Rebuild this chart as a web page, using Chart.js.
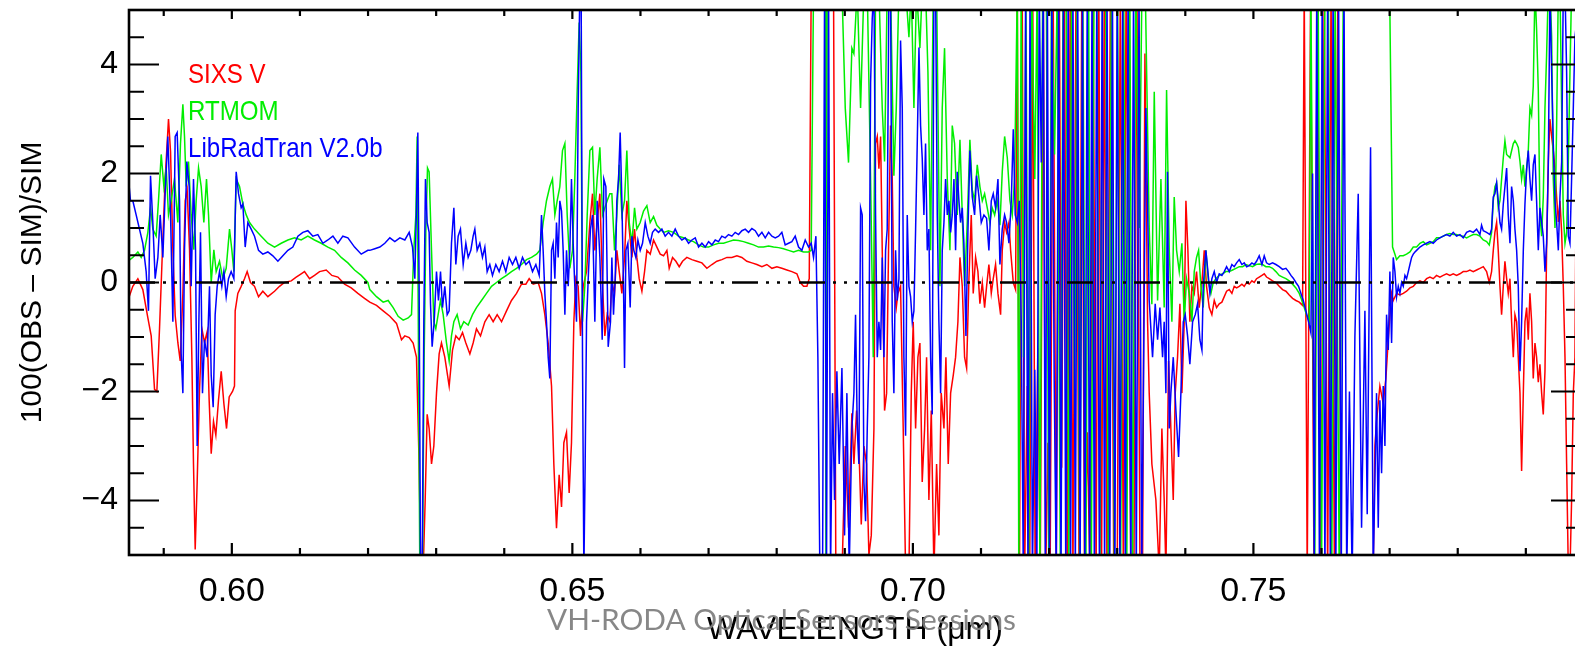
<!DOCTYPE html>
<html><head><meta charset="utf-8">
<script src="https://cdn.jsdelivr.net/npm/chart.js@4.4.1/dist/chart.umd.min.js"></script>
<style>
html,body{margin:0;padding:0;background:#fff;overflow:hidden;width:1575px;height:652px;}
#wrap{position:absolute;left:0;top:0;width:1600px;height:652px;}
</style></head><body>
<div id="wrap"><canvas id="c" width="1600" height="652"></canvas></div>
<script>
// ---------------- data (wavelength in µm, 100(OBS-SIM)/SIM) ----------------
const xTickValues = [0.60, 0.65, 0.70, 0.75];
const xTickLabels = ['0.60', '0.65', '0.70', '0.75'];
const xMinorTicks = [0.59, 0.61, 0.62, 0.63, 0.64, 0.66, 0.67, 0.68, 0.69, 0.71, 0.72, 0.73, 0.74, 0.76, 0.77, 0.78, 0.79];
const yTickValues = [-4, -2, 0, 2, 4];
const yTickLabels = ['\u22124', '\u22122', '0', '2', '4'];
const yMinorTicks = [-4.5, -3.5, -3, -2.5, -1.5, -1, -0.5, 0.5, 1, 1.5, 2.5, 3, 3.5, 4.5];
const xRange = [0.5849, 0.7981];
const yRange = [-5, 5];
const legendLabels = ['SIXS V', 'RTMOM', 'LibRadTran V2.0b'];
const xTitle = 'WAVELENGTH (\u03bcm)';
const yTitle = '100(OBS \u2013 SIM)/SIM';
const watermark = 'VH-RODA Optical Sensors Sessions';

const sixs = [
[0.58473,-0.33],[0.58546,-0.07],[0.58620,0.07],[0.58693,-0.13],[0.58767,-0.65],[0.58816,-0.98],[0.58865,-1.96],[0.58899,-2.0],[0.58938,-0.85],[0.58977,0.46],
[0.59021,1.9],[0.59070,3.0],[0.59100,2.4],[0.59134,0.6],[0.59168,-0.6],[0.59207,-1.1],[0.59242,-1.44],[0.59281,-0.2],[0.59315,1.5],[0.59344,1.7],
[0.59379,0.6],[0.59413,-1.37],[0.59437,-3.33],[0.59462,-4.9],[0.59491,-3.66],[0.59525,-2.0],[0.59560,-0.85],[0.59599,-1.1],[0.59638,-0.9],[0.59667,-2.16],
[0.59697,-3.14],[0.59731,-2.55],[0.59765,-2.8],[0.59804,-2.16],[0.59844,-1.63],[0.59883,-2.22],[0.59922,-2.68],[0.59961,-2.1],[0.60010,-2.0],[0.60039,-1.9],
[0.60049,-0.52],[0.60088,-0.2],[0.60137,-0.07],[0.60186,0.07],[0.60225,0.2],[0.60274,0.0],[0.60333,-0.07],[0.60392,-0.26],[0.60455,-0.16],[0.60529,-0.26],
[0.60627,-0.16],[0.60700,-0.07],[0.60774,0.0],[0.60872,0.03],[0.60945,0.1],[0.61018,0.16],[0.61067,0.2],[0.61141,0.07],[0.61214,0.13],[0.61288,0.2],
[0.61386,0.23],[0.61469,0.13],[0.61557,0.1],[0.61655,-0.03],[0.61753,-0.1],[0.61851,-0.2],[0.61948,-0.29],
[0.62026,-0.36],[0.62124,-0.42],[0.62222,-0.52],[0.62320,-0.62],[0.62418,-0.75],[0.62491,-1.05],[0.62540,-0.98],[0.62604,-1.01],[0.62662,-1.11],[0.62711,-1.37],
[0.62750,-3.33],[0.62775,-5.3],[0.62809,-5.3],[0.62839,-3.99],[0.62868,-2.42],[0.62897,-2.68],[0.62932,-3.33],[0.62966,-3.0],[0.63005,-2.03],[0.63044,-1.31],
[0.63078,-1.11],[0.63127,-1.37],[0.63191,-1.9],[0.63240,-1.24],[0.63289,-0.98],[0.63338,-1.05],[0.63387,-0.92],[0.63436,-1.11],[0.63495,-1.31],[0.63543,-1.11],
[0.63592,-0.85],[0.63651,-0.98],[0.63715,-0.72],[0.63778,-0.59],[0.63837,-0.72],[0.63896,-0.59],[0.63960,-0.72],[0.64033,-0.52],[0.64106,-0.33],[0.64180,-0.2],
[0.64253,-0.03],[0.64317,-0.03],[0.64366,0.07],[0.64425,-0.03],[0.64498,0.0],[0.64547,-0.2],[0.64596,-0.59],[0.64645,-1.11],[0.64694,-1.9],[0.64728,-3.33],
[0.64767,-4.51],[0.64806,-3.53],[0.64841,-4.12],[0.64875,-2.94],[0.64914,-2.75],[0.64953,-3.86],[0.64987,-2.94],[0.65022,-0.72],[0.65051,0.07],[0.65085,-0.07],
[0.65120,-0.98],[0.65159,-0.07],[0.65208,0.2],[0.65257,1.1],[0.65296,1.63],[0.65330,0.59],[0.65364,1.1],[0.65404,1.63],[0.65443,-0.07],[0.65477,-0.98],
[0.65511,-0.59],[0.65550,-0.72],
[0.65580,0.0],[0.65619,-0.2],[0.65653,0.59],[0.65688,0.2],[0.65727,-0.2],[0.65766,0.46],[0.65800,1.5],[0.65835,0.98],[0.65874,0.46],[0.65913,0.98],
[0.65947,0.46],[0.65981,0.07],[0.66021,-0.16],[0.66060,0.2],[0.66094,0.59],[0.66143,0.52],[0.66192,0.78],[0.66241,0.65],[0.66290,0.52],[0.66339,0.49],
[0.66388,0.59],[0.66422,0.26],[0.66471,0.46],[0.66520,0.39],[0.66569,0.29],[0.66618,0.39],[0.66681,0.46],[0.66755,0.42],[0.66828,0.39],[0.66902,0.36],
[0.66975,0.26],[0.67049,0.33],[0.67122,0.39],[0.67195,0.42],[0.67269,0.46],[0.67342,0.46],[0.67416,0.49],[0.67489,0.46],[0.67562,0.39],[0.67636,0.36],
[0.67709,0.33],[0.67783,0.29],[0.67856,0.33],[0.67930,0.26],[0.68003,0.29],[0.68076,0.26],[0.68150,0.23],[0.68223,0.2],[0.68297,0.16],[0.68346,0.0],
[0.68395,-0.07],[0.68444,-0.07],[0.68478,0.07],[0.68507,5.4],[0.68615,5.4],[0.68762,5.4],[0.68835,5.4],[0.68869,-5.4],[0.68958,-5.4],[0.69007,-3.0],
[0.69055,-4.5],[0.69104,-2.4],
[0.69134,-3.33],[0.69173,-2.35],[0.69207,-3.0],[0.69242,-4.44],[0.69281,-3.0],[0.69320,-3.33],[0.69354,-5.0],[0.69389,-4.64],[0.69428,-2.68],[0.69452,2.55],
[0.69477,2.68],[0.69501,2.09],[0.69526,2.68],[0.69550,0.59],[0.69584,-2.35],[0.69614,-2.03],[0.69643,0.65],[0.69672,2.88],[0.69697,1.9],[0.69721,-0.07],
[0.69756,-0.46],[0.69780,-0.2],[0.69819,-0.07],[0.69858,-2.68],[0.69893,-5.3],[0.69942,-5.3],[0.69976,-2.03],[0.70005,-0.72],[0.70040,-2.68],[0.70074,-1.37],
[0.70103,-1.11],[0.70137,-3.66],[0.70172,-2.68],[0.70201,-1.37],[0.70235,-3.99],[0.70270,-2.35],[0.70309,-5.3],[0.70348,-3.33],[0.70382,-4.64],[0.70416,-2.03],
[0.70456,-2.68],[0.70485,-1.37],[0.70519,-3.33],[0.70554,-2.03],[0.70593,-1.7],[0.70627,-1.37],[0.70661,-0.72],[0.70691,0.46],[0.70725,-0.07],[0.70759,-1.37],
[0.70789,-1.57],[0.70823,0.07],[0.70857,1.24],[0.70886,-0.2],[0.70921,0.46],[0.70955,0.2],[0.70984,-0.39],[0.71019,0.0],[0.71053,-0.46],[0.71082,-0.07],
[0.71116,0.33],[0.71151,-0.2],[0.71180,0.07],[0.71214,0.33],[0.71249,-0.2],[0.71288,-0.59],[0.71312,0.59],[0.71347,1.1],[0.71376,0.92],[0.71410,1.1],
[0.71435,0.59],[0.71474,0.0],[0.71508,-0.13],[0.71533,5.4],
[0.71565,-5.4],[0.71605,5.4],[0.71640,-5.4],[0.71680,-1.9],[0.71715,-5.4],[0.71760,5.4],[0.71795,-5.4],[0.71835,-1.2],[0.71870,-5.4],[0.71915,5.4],
[0.71950,-5.4],[0.71982,-2.94],[0.72015,-5.4],[0.72060,5.4],[0.72105,-5.4],[0.72150,5.4],[0.72185,-3.4],[0.72225,5.4],[0.72265,-5.4],[0.72310,5.4],
[0.72350,-5.4],[0.72395,5.4],[0.72440,-5.4],[0.72480,5.4],[0.72520,-5.4],[0.72561,-2.75],[0.72600,-5.4],[0.72645,5.4],[0.72690,-5.4],[0.72730,5.4],
[0.72770,-5.4],[0.72810,5.4],[0.72850,-5.4],[0.72900,5.4],[0.72950,-5.4],[0.73000,-5.4],[0.73045,5.4],[0.73090,-5.4],[0.73130,5.4],[0.73165,0.72],
[0.73200,-5.4],[0.73245,-5.4],[0.73290,5.4],[0.73335,-5.4],
[0.73372,-5.4],[0.73407,4.2],[0.73446,-0.72],[0.73470,-2.03],[0.73509,-3.33],[0.73568,-3.99],[0.73617,-5.3],[0.73656,-2.68],[0.73690,-3.99],[0.73715,-5.3],
[0.73754,-1.44],[0.73788,-2.68],[0.73823,-3.99],[0.73852,-2.03],[0.73886,-1.37],[0.73921,-0.39],[0.73950,-2.03],[0.73984,-0.72],[0.74009,1.5],[0.74038,0.59],
[0.74067,-0.72],[0.74097,-0.07],[0.74131,-0.2],[0.74165,0.2],[0.74204,-0.46],[0.74244,0.0],[0.74278,0.59],[0.74312,-0.07],[0.74351,-0.46],[0.74390,-0.59],
[0.74425,-0.33],[0.74459,-0.46],[0.74498,-0.39],[0.74537,-0.36],[0.74572,-0.26],[0.74606,-0.16],[0.74645,-0.13],[0.74684,-0.2],[0.74718,-0.07],[0.74753,-0.1],
[0.74792,-0.07],[0.74831,-0.03],[0.74865,-0.07],[0.74900,0.0],[0.74939,-0.03],[0.74978,0.03],[0.75012,0.0],[0.75046,0.07],[0.75085,0.1],[0.75125,0.13],
[0.75159,0.16],[0.75193,0.1],[0.75232,0.07],[0.75281,0.03],[0.75330,0.0],[0.75379,-0.07],[0.75428,-0.13],[0.75477,-0.16],[0.75526,-0.23],[0.75575,-0.29],
[0.75624,-0.33],[0.75673,-0.36],[0.75722,-0.42],[0.75746,5.4],
[0.75790,-5.4],[0.75840,5.4],[0.75890,-5.4],[0.75940,5.4],[0.75990,-5.4],[0.76040,5.4],[0.76090,-5.4],[0.76140,5.4],[0.76190,-5.4],[0.76240,5.4],
[0.76290,-5.4],[0.76400,-5.4],[0.76500,-5.4],[0.76600,-5.4],[0.76700,-5.4],
[0.76759,-5.3],[0.76784,-3.0],[0.76808,-2.55],[0.76857,-1.9],[0.76906,-2.22],[0.76945,-1.76],[0.76980,-1.05],[0.77004,-0.59],[0.77029,-0.2],[0.77053,-0.33],
[0.77102,-0.2],[0.77151,-0.23],[0.77200,-0.2],[0.77249,-0.16],[0.77298,-0.1],[0.77347,-0.07],[0.77396,0.0],[0.77445,0.03],[0.77494,0.0],[0.77543,0.07],
[0.77592,0.1],[0.77640,0.07],[0.77689,0.13],[0.77738,0.1],[0.77787,0.13],[0.77836,0.16],[0.77885,0.13],[0.77934,0.16],[0.77983,0.13],[0.78032,0.16],
[0.78081,0.2],[0.78130,0.2],[0.78179,0.23],[0.78228,0.2],[0.78277,0.23],[0.78326,0.26],[0.78375,0.29],[0.78424,0.2],[0.78463,0.0],[0.78497,0.2],
[0.78522,0.59],[0.78546,0.92],[0.78571,1.1],[0.78595,0.59],[0.78620,-0.07],[0.78644,-0.59],[0.78669,-0.07],[0.78693,0.39],[0.78718,0.07],[0.78742,-0.2],
[0.78767,0.07],[0.78791,-0.72],[0.78816,-1.37],[0.78840,-0.59],[0.78865,-0.72],[0.78889,-1.37],[0.78914,-2.03],[0.78938,-3.46],[0.78963,-2.03],[0.78987,-0.72],
[0.79012,-0.46],[0.79036,-1.05],[0.79060,-0.2],[0.79085,-0.72],[0.79109,-1.76],[0.79134,-1.11],[0.79158,-1.37],[0.79183,-1.83],[0.79207,-1.5],[0.79232,-2.03],
[0.79256,-2.42],[0.79281,-1.63],[0.79305,0.59],[0.79330,2.22],[0.79354,3.0],[0.79379,2.68],[0.79403,2.42],[0.79428,2.09],[0.79452,1.57],[0.79477,1.11],
[0.79501,1.5],[0.79526,0.92],[0.79550,-0.07],[0.79575,-1.37],[0.79599,-3.33],[0.79624,-5.3],[0.79648,-5.3],[0.79672,-3.99],[0.79697,-2.03],[0.79721,-1.37],
[0.79760,5.4],[0.79800,-5.4]
];

const rtmom = [
[0.58473,0.39],[0.58546,0.46],[0.58620,0.56],[0.58669,0.46],[0.58718,0.59],[0.58767,0.92],[0.58806,1.37],[0.58840,0.98],[0.58889,0.85],[0.58923,1.5],
[0.58963,2.35],[0.59002,1.76],[0.59036,2.1],[0.59070,1.24],[0.59109,1.5],[0.59158,1.9],[0.59207,1.1],[0.59246,2.55],[0.59281,3.27],[0.59305,2.68],
[0.59330,1.76],[0.59364,2.22],[0.59403,1.24],[0.59442,0.6],[0.59476,1.5],[0.59511,2.1],[0.59550,1.76],[0.59589,1.1],[0.59628,1.9],[0.59658,1.24],
[0.59697,0.0],[0.59736,0.6],[0.59770,0.2],[0.59819,0.39],[0.59868,0.07],[0.59917,0.26],[0.59966,0.98],[0.60000,0.6],[0.60030,0.2],[0.60064,1.9],
[0.60113,1.76],[0.60162,1.44],[0.60211,1.24],[0.60260,1.1],[0.60333,0.98],[0.60431,0.85],[0.60529,0.72],[0.60627,0.65],[0.60725,0.72],[0.60823,0.78],
[0.60921,0.82],[0.61018,0.78],[0.61116,0.85],[0.61214,0.78],[0.61312,0.72],[0.61410,0.65],[0.61508,0.59],[0.61606,0.46],[0.61704,0.36],[0.61802,0.23],
[0.61900,0.13],[0.61997,0.0],
[0.62026,-0.13],[0.62124,-0.26],[0.62222,-0.36],[0.62295,-0.33],[0.62369,-0.46],[0.62442,-0.62],[0.62516,-0.69],[0.62589,-0.65],[0.62638,-0.59],[0.62672,0.59],
[0.62702,1.24],[0.62721,2.68],[0.62741,-1.37],[0.62760,-5.3],[0.62799,-5.3],[0.62824,-1.37],[0.62848,0.92],[0.62873,2.1],[0.62897,2.03],[0.62932,0.59],
[0.62966,-0.72],[0.62995,-0.85],[0.63029,-0.59],[0.63064,-0.33],[0.63103,-0.59],[0.63152,-1.11],[0.63191,-1.44],[0.63225,-0.98],[0.63260,-0.72],[0.63308,-0.59],
[0.63357,-0.85],[0.63406,-0.72],[0.63470,-0.78],[0.63534,-0.59],[0.63592,-0.46],[0.63666,-0.33],[0.63739,-0.2],[0.63813,-0.07],[0.63886,0.0],[0.63960,0.07],
[0.64033,0.13],[0.64106,0.2],[0.64180,0.26],[0.64253,0.33],[0.64327,0.42],[0.64400,0.46],[0.64474,0.52],[0.64522,0.59],[0.64571,1.1],[0.64620,1.5],
[0.64669,1.76],[0.64708,1.9],[0.64743,1.24],[0.64777,1.5],[0.64816,1.76],[0.64855,2.42],[0.64890,2.55],[0.64924,1.24],[0.64963,0.26],[0.65002,0.59],
[0.65036,1.9],[0.65071,3.53],[0.65100,4.77],[0.65125,3.86],[0.65149,-0.72],[0.65183,-0.07],[0.65218,1.24],[0.65257,2.42],[0.65296,2.48],[0.65330,1.24],
[0.65364,1.9],[0.65404,2.48],[0.65443,1.24],[0.65477,1.37],[0.65511,1.5],[0.65550,1.63],
[0.65580,1.63],[0.65619,0.59],[0.65653,1.24],[0.65688,2.16],[0.65727,1.24],[0.65766,1.5],[0.65800,2.42],[0.65835,1.1],[0.65874,0.72],[0.65913,1.37],
[0.65947,0.98],[0.65996,1.1],[0.66045,1.31],[0.66094,1.41],[0.66143,1.1],[0.66192,1.21],[0.66241,1.05],[0.66290,0.98],[0.66339,0.92],[0.66412,0.95],
[0.66486,0.92],[0.66559,0.85],[0.66632,0.82],[0.66706,0.78],[0.66779,0.75],[0.66853,0.69],[0.66926,0.65],[0.67000,0.65],[0.67073,0.69],[0.67146,0.72],
[0.67220,0.72],[0.67293,0.75],[0.67367,0.78],[0.67440,0.77],[0.67513,0.75],[0.67587,0.72],[0.67660,0.69],[0.67734,0.65],[0.67807,0.65],[0.67881,0.67],
[0.67954,0.65],[0.68028,0.64],[0.68101,0.62],[0.68174,0.59],[0.68248,0.56],[0.68321,0.59],[0.68395,0.56],[0.68468,0.56],[0.68507,0.59],[0.68541,5.4],
[0.68713,5.4],[0.68723,-5.4],[0.68742,5.4],[0.68958,5.4],[0.69007,3.2],[0.69055,2.2],[0.69104,4.3],
[0.69134,4.2],[0.69183,5.4],[0.69232,3.2],[0.69281,5.4],[0.69330,5.4],[0.69379,1.9],[0.69418,-1.37],[0.69452,5.4],[0.69501,5.4],[0.69550,3.2],
[0.69584,2.22],[0.69623,5.4],[0.69672,5.4],[0.69721,1.96],[0.69756,3.2],[0.69795,5.4],[0.69893,5.4],[0.69942,4.5],[0.69976,5.4],[0.70015,3.2],
[0.70054,5.4],[0.70103,4.3],[0.70137,5.4],[0.70186,5.4],[0.70221,3.86],[0.70260,0.59],[0.70299,5.4],[0.70348,5.4],[0.70397,-0.07],[0.70431,3.2],
[0.70465,4.3],[0.70505,1.9],[0.70544,0.59],[0.70578,2.88],[0.70612,2.55],[0.70651,1.24],[0.70691,2.62],[0.70725,1.24],[0.70759,-0.07],[0.70798,1.1],
[0.70837,2.62],[0.70872,1.7],[0.70906,1.5],[0.70945,2.16],[0.70984,1.76],[0.71019,1.5],[0.71053,1.63],[0.71092,1.37],[0.71131,1.1],[0.71165,1.37],
[0.71200,1.24],[0.71239,1.5],[0.71278,1.05],[0.71312,2.03],[0.71347,2.68],[0.71386,2.29],[0.71425,1.5],[0.71459,1.24],[0.71493,1.9],[0.71533,5.4],
[0.71555,-5.4],[0.71590,5.4],[0.71625,-1.37],[0.71660,5.4],[0.71700,-5.4],[0.71745,5.4],[0.71790,1.9],[0.71825,5.4],[0.71865,-5.4],[0.71905,5.4],
[0.71960,5.4],[0.71995,-5.4],[0.72035,5.4],[0.72080,2.35],[0.72120,5.4],[0.72165,-5.4],[0.72205,5.4],[0.72250,5.4],[0.72290,-5.4],[0.72330,5.4],
[0.72375,-2.5],[0.72410,5.4],[0.72450,-5.4],[0.72495,5.4],[0.72540,-5.4],[0.72580,5.4],[0.72620,-5.4],[0.72660,5.4],[0.72700,5.4],[0.72745,-5.4],
[0.72785,5.4],[0.72830,5.4],[0.72870,-5.4],[0.72915,5.4],[0.72960,-5.4],[0.73005,5.4],[0.73050,-5.4],[0.73095,5.4],[0.73140,-5.4],[0.73185,5.4],
[0.73225,-5.4],
[0.73274,5.4],[0.73323,1.0],[0.73363,5.4],[0.73412,5.4],[0.73470,1.0],[0.73509,-0.4],[0.73544,3.5],[0.73593,-0.33],[0.73642,1.9],[0.73690,-0.46],
[0.73725,3.53],[0.73764,0.59],[0.73803,-0.72],[0.73837,1.57],[0.73872,0.59],[0.73911,0.2],[0.73950,0.72],[0.73984,-0.72],[0.74018,0.07],[0.74058,-0.2],
[0.74097,-0.72],[0.74131,0.2],[0.74165,0.46],[0.74195,0.59],[0.74229,-0.07],[0.74263,-0.46],[0.74302,0.59],[0.74341,0.0],[0.74376,-0.2],[0.74410,0.0],
[0.74449,0.07],[0.74498,0.13],[0.74547,0.16],[0.74596,0.2],[0.74645,0.2],[0.74694,0.23],[0.74743,0.26],[0.74792,0.29],[0.74841,0.29],[0.74890,0.33],
[0.74939,0.31],[0.74988,0.29],[0.75037,0.33],[0.75085,0.34],[0.75134,0.33],[0.75183,0.29],[0.75232,0.29],[0.75281,0.26],[0.75330,0.2],[0.75379,0.13],
[0.75428,0.1],[0.75477,0.07],[0.75526,0.03],[0.75575,-0.03],[0.75624,-0.1],[0.75673,-0.2],[0.75712,-0.33],[0.75746,-0.46],[0.75780,-0.59],[0.75820,-0.72],
[0.75844,5.4],[0.75900,-5.4],[0.75950,5.4],[0.76000,-5.4],[0.76050,5.4],[0.76100,5.4],[0.76150,-5.4],[0.76200,5.4],[0.76260,-5.4],[0.76320,5.4],
[0.76900,5.4],[0.77000,5.4],
[0.77043,0.65],[0.77078,0.52],[0.77102,0.42],[0.77151,0.49],[0.77200,0.49],[0.77249,0.52],[0.77298,0.56],[0.77347,0.65],[0.77396,0.65],[0.77445,0.72],
[0.77494,0.75],[0.77543,0.69],[0.77592,0.72],[0.77640,0.75],[0.77689,0.82],[0.77738,0.82],[0.77787,0.85],[0.77836,0.88],[0.77885,0.9],[0.77934,0.88],
[0.77983,0.88],[0.78032,0.86],[0.78081,0.85],[0.78130,0.82],[0.78179,0.85],[0.78228,0.88],[0.78277,0.88],[0.78326,0.85],[0.78375,0.78],[0.78424,0.75],
[0.78463,0.69],[0.78497,0.92],[0.78522,1.5],[0.78546,1.76],[0.78571,1.83],[0.78595,1.37],[0.78620,1.5],[0.78644,1.9],[0.78669,2.29],[0.78693,2.6],
[0.78718,2.35],[0.78767,2.29],[0.78816,2.55],[0.78840,2.6],[0.78865,2.55],[0.78889,2.48],[0.78914,2.22],[0.78938,1.9],[0.78963,2.16],[0.78987,1.76],
[0.79012,2.09],[0.79036,2.42],[0.79060,3.2],[0.79085,3.07],[0.79109,3.6],[0.79134,5.4],[0.79158,4.64],[0.79183,3.53],[0.79207,1.24],[0.79232,0.85],
[0.79256,1.57],[0.79281,3.2],[0.79305,4.18],[0.79330,5.4],[0.79354,5.4],[0.79379,4.51],[0.79403,1.9],[0.79428,1.0],[0.79452,2.88],[0.79477,5.4],
[0.79501,5.4],[0.79526,3.2],[0.79550,1.24],[0.79575,0.72],[0.79599,0.92],[0.79624,2.22],[0.79648,3.86],[0.79672,5.4],[0.79721,5.4],[0.79800,5.4]
];

const librt = [
[0.58473,2.03],[0.58512,1.5],[0.58546,1.5],[0.58595,1.24],[0.58644,0.98],[0.58693,0.72],[0.58742,0.2],[0.58776,-0.52],[0.58806,1.96],[0.58840,1.1],
[0.58874,0.07],[0.58914,0.46],[0.58948,1.24],[0.58987,0.46],[0.59021,1.63],[0.59060,2.68],[0.59100,1.24],[0.59134,-0.72],[0.59168,2.68],[0.59197,2.75],
[0.59232,1.5],[0.59256,-1.3],[0.59281,-2.03],[0.59305,0.59],[0.59339,2.22],[0.59374,1.76],[0.59403,-0.07],[0.59437,1.9],[0.59467,0.59],[0.59491,-3.0],
[0.59516,-0.72],[0.59540,0.92],[0.59569,-2.03],[0.59599,-1.05],[0.59638,-1.37],[0.59672,-0.07],[0.59697,-1.7],[0.59726,-2.29],[0.59755,-0.59],[0.59785,-0.07],
[0.59819,0.2],[0.59853,-0.07],[0.59883,0.2],[0.59917,-0.26],[0.59951,0.07],[0.59990,0.2],[0.60030,0.07],[0.60064,2.03],[0.60098,1.63],[0.60137,1.37],
[0.60162,1.44],[0.60196,0.65],[0.60235,1.1],[0.60284,0.98],[0.60333,0.85],[0.60392,0.59],[0.60455,0.52],[0.60529,0.56],[0.60602,0.49],[0.60676,0.39],
[0.60749,0.49],[0.60823,0.59],[0.60896,0.65],[0.60970,0.85],[0.61043,0.92],[0.61116,0.95],[0.61190,0.85],[0.61263,0.88],[0.61337,0.72],[0.61410,0.78],
[0.61484,0.85],[0.61557,0.72],[0.61630,0.85],[0.61704,0.82],[0.61802,0.65],[0.61900,0.52],[0.61997,0.59],
[0.62026,0.59],[0.62099,0.62],[0.62173,0.65],[0.62246,0.72],[0.62320,0.82],[0.62393,0.75],[0.62467,0.82],[0.62540,0.78],[0.62604,0.92],[0.62653,0.65],
[0.62687,0.07],[0.62711,1.37],[0.62731,2.75],[0.62750,-0.07],[0.62770,-5.3],[0.62795,-5.3],[0.62819,-0.72],[0.62843,1.9],[0.62868,1.1],[0.62897,0.92],
[0.62917,-0.39],[0.62941,-1.18],[0.62971,-0.72],[0.63005,0.2],[0.63034,-0.33],[0.63064,0.2],[0.63093,-0.46],[0.63127,-0.07],[0.63162,-0.59],[0.63191,-0.52],
[0.63225,0.72],[0.63260,1.37],[0.63289,0.33],[0.63323,0.85],[0.63357,0.98],[0.63397,0.33],[0.63436,0.72],[0.63470,0.46],[0.63509,0.59],[0.63543,0.85],
[0.63568,0.98],[0.63602,0.59],[0.63641,0.72],[0.63680,0.46],[0.63715,0.65],[0.63749,0.2],[0.63788,0.33],[0.63827,0.13],[0.63876,0.33],[0.63925,0.2],
[0.63974,0.39],[0.64023,0.2],[0.64072,0.46],[0.64121,0.33],[0.64170,0.46],[0.64219,0.26],[0.64268,0.46],[0.64317,0.33],[0.64366,0.39],[0.64415,0.2],
[0.64464,0.33],[0.64513,0.13],[0.64547,1.24],[0.64571,0.59],[0.64596,-0.2],[0.64620,-0.72],[0.64645,-1.37],[0.64669,-1.76],[0.64694,0.59],[0.64718,0.72],
[0.64743,0.07],[0.64767,1.1],[0.64792,0.46],[0.64816,1.5],[0.64841,1.31],[0.64865,0.59],[0.64890,-0.59],[0.64914,0.59],[0.64939,-0.07],[0.64963,0.59],
[0.64987,1.9],[0.65012,0.72],[0.65036,-0.07],[0.65061,-0.72],[0.65085,3.2],[0.65110,5.4],[0.65129,5.4],[0.65149,-1.37],[0.65169,-5.3],[0.65188,-3.33],
[0.65208,-0.72],[0.65237,0.2],[0.65266,0.98],[0.65296,1.24],[0.65330,-0.72],[0.65364,1.5],[0.65404,0.46],[0.65438,-1.05],[0.65462,1.9],[0.65492,1.76],
[0.65526,-1.18],[0.65560,-0.72],
[0.65580,0.46],[0.65604,-0.59],[0.65629,0.07],[0.65653,1.5],[0.65678,1.9],[0.65702,2.75],[0.65727,1.5],[0.65751,-0.07],[0.65766,-1.57],[0.65786,0.59],
[0.65815,0.72],[0.65849,-0.46],[0.65874,0.85],[0.65903,0.59],[0.65932,0.46],[0.65962,0.78],[0.65996,0.59],[0.66030,0.72],[0.66070,1.1],[0.66109,0.85],
[0.66143,0.72],[0.66177,0.92],[0.66216,0.98],[0.66265,0.92],[0.66314,0.98],[0.66363,0.85],[0.66412,0.92],[0.66461,0.85],[0.66510,0.98],[0.66559,0.85],
[0.66608,0.78],[0.66657,0.82],[0.66706,0.72],[0.66755,0.78],[0.66804,0.82],[0.66853,0.65],[0.66902,0.72],[0.66951,0.65],[0.67000,0.75],[0.67049,0.69],
[0.67098,0.78],[0.67146,0.75],[0.67195,0.85],[0.67244,0.82],[0.67293,0.88],[0.67342,0.85],[0.67391,0.92],[0.67440,0.88],[0.67489,0.95],[0.67538,0.98],
[0.67587,0.92],[0.67636,0.99],[0.67685,0.95],[0.67734,0.85],[0.67783,0.92],[0.67832,0.82],[0.67881,0.92],[0.67930,0.85],[0.67979,0.82],[0.68028,0.85],
[0.68076,0.92],[0.68125,0.69],[0.68174,0.72],[0.68223,0.75],[0.68272,0.85],[0.68321,0.65],[0.68370,0.59],[0.68419,0.78],[0.68468,0.65],[0.68507,0.72],
[0.68541,0.46],[0.68576,0.85],[0.68605,-1.37],[0.68634,-5.3],[0.68674,-5.3],[0.68703,5.4],[0.68732,-5.3],[0.68762,5.4],[0.68791,-5.3],[0.68820,-2.03],
[0.68850,-3.99],[0.68884,-1.63],[0.68918,-3.33],[0.68958,-1.57],[0.68997,-4.64],[0.69031,-2.03],[0.69065,-5.3],[0.69104,-2.68],
[0.69134,-2.03],[0.69158,-0.59],[0.69183,-2.68],[0.69207,-3.33],[0.69232,1.37],[0.69256,1.24],[0.69281,-3.66],[0.69305,-4.38],[0.69330,-2.68],[0.69354,-1.37],
[0.69379,3.66],[0.69403,4.84],[0.69428,5.4],[0.69452,1.24],[0.69477,-1.37],[0.69501,-0.72],[0.69526,-1.24],[0.69550,0.46],[0.69575,-1.37],[0.69599,0.59],
[0.69623,0.98],[0.69648,5.4],[0.69672,5.4],[0.69697,-0.72],[0.69721,-2.03],[0.69746,0.59],[0.69770,-0.33],[0.69795,0.07],[0.69819,4.44],[0.69844,3.2],
[0.69868,-1.37],[0.69893,-2.81],[0.69917,1.24],[0.69942,-0.07],[0.69966,-0.26],[0.69991,-0.72],[0.70015,-0.52],[0.70040,0.98],[0.70064,2.55],[0.70089,4.31],
[0.70113,2.88],[0.70137,2.29],[0.70162,1.24],[0.70186,2.55],[0.70211,0.59],[0.70235,0.98],[0.70260,-1.37],[0.70284,-2.42],[0.70309,5.4],[0.70333,5.4],
[0.70358,1.24],[0.70382,-0.72],[0.70407,-2.03],[0.70431,0.59],[0.70456,1.1],[0.70480,1.9],[0.70505,1.24],[0.70529,1.5],[0.70554,0.92],[0.70578,1.24],
[0.70603,1.9],[0.70627,0.59],[0.70651,2.03],[0.70676,1.5],[0.70700,1.1],[0.70725,1.37],[0.70749,0.72],[0.70779,-0.98],[0.70808,0.92],[0.70837,2.42],
[0.70872,1.57],[0.70906,1.24],[0.70935,1.96],[0.70970,1.57],[0.71004,1.1],[0.71043,1.24],[0.71082,1.18],[0.71116,0.59],[0.71151,1.5],[0.71180,1.63],
[0.71214,1.37],[0.71249,1.9],[0.71278,0.33],[0.71312,0.98],[0.71347,1.24],[0.71376,1.1],[0.71410,0.72],[0.71445,1.5],[0.71474,2.81],[0.71503,1.24],
[0.71533,1.1],[0.71562,1.5],[0.71591,-0.72],[0.71621,-5.3],
[0.71655,5.4],[0.71690,-5.4],[0.71720,5.4],[0.71755,-5.4],[0.71790,-1.6],[0.71820,-5.4],[0.71855,5.4],[0.71885,2.2],[0.71915,5.4],[0.71945,-5.4],
[0.71975,5.4],[0.72005,-5.4],[0.72040,5.4],[0.72075,-1.8],[0.72105,-5.4],[0.72140,5.4],[0.72175,-5.4],[0.72210,5.4],[0.72245,-5.4],[0.72280,5.4],
[0.72315,-5.4],[0.72350,5.4],[0.72385,-5.4],[0.72420,5.4],[0.72455,-5.4],[0.72490,5.4],[0.72525,-5.4],[0.72560,5.4],[0.72595,-5.4],[0.72630,5.4],
[0.72665,-5.4],[0.72700,5.4],[0.72740,-5.4],[0.72780,5.4],[0.72815,-5.4],[0.72850,5.4],[0.72890,-5.4],[0.72930,5.4],[0.72965,-5.4],[0.73000,5.4],
[0.73040,-5.4],[0.73080,5.4],[0.73120,-5.4],[0.73160,5.4],[0.73200,-5.4],[0.73240,5.4],[0.73280,-5.4],[0.73320,5.4],[0.73360,-5.4],
[0.73421,3.2],[0.73470,-0.33],[0.73519,-1.37],[0.73558,-0.39],[0.73593,-1.05],[0.73627,-0.46],[0.73666,-1.37],[0.73690,-0.72],[0.73715,-2.03],[0.73739,2.03],
[0.73764,-2.68],[0.73788,-2.03],[0.73823,-1.37],[0.73862,-2.35],[0.73901,-3.2],[0.73935,-2.03],[0.73970,-0.72],[0.73999,-0.59],[0.74033,-0.98],[0.74067,-1.5],
[0.74107,-0.72],[0.74146,-0.59],[0.74180,-0.39],[0.74214,-1.05],[0.74244,-1.24],[0.74263,-0.07],[0.74302,0.59],[0.74332,0.2],[0.74361,-0.2],[0.74390,0.07],
[0.74425,0.2],[0.74459,0.0],[0.74498,0.16],[0.74537,0.13],[0.74572,0.2],[0.74606,0.29],[0.74645,0.2],[0.74684,0.33],[0.74718,0.29],[0.74753,0.36],
[0.74792,0.42],[0.74831,0.33],[0.74865,0.36],[0.74900,0.29],[0.74939,0.31],[0.74978,0.36],[0.75012,0.33],[0.75046,0.39],[0.75085,0.49],[0.75125,0.33],
[0.75159,0.49],[0.75193,0.36],[0.75232,0.33],[0.75281,0.36],[0.75330,0.33],[0.75379,0.29],[0.75428,0.24],[0.75477,0.26],[0.75516,0.2],[0.75551,0.13],
[0.75585,0.08],[0.75624,0.0],[0.75663,-0.07],[0.75698,-0.2],[0.75732,-0.33],[0.75771,-0.52],[0.75810,-0.72],[0.75844,-0.92],[0.75869,2.0],[0.75893,-5.3],
[0.75930,5.4],[0.75970,-5.4],[0.76010,5.4],[0.76050,-5.4],[0.76090,5.4],[0.76130,-5.4],[0.76170,5.4],[0.76210,-5.4],[0.76250,5.4],[0.76290,-5.4],
[0.76330,5.4],[0.76370,-5.4],[0.76410,-2.0],[0.76450,-5.4],[0.76490,-1.0],
[0.76539,1.63],[0.76588,-4.5],[0.76637,-0.52],[0.76671,-4.25],[0.76720,2.48],[0.76759,-5.3],[0.76808,-2.03],[0.76833,-4.5],[0.76857,-2.16],[0.76882,-3.5],
[0.76906,-1.9],[0.76931,-3.0],[0.76955,-0.59],[0.76980,-1.24],[0.77004,0.2],[0.77029,-1.11],[0.77053,0.46],[0.77078,0.2],[0.77102,-0.26],[0.77127,-0.07],
[0.77151,-0.2],[0.77176,0.0],[0.77200,-0.07],[0.77225,0.13],[0.77249,0.07],[0.77274,0.2],[0.77298,0.33],[0.77323,0.46],[0.77347,0.52],[0.77372,0.56],
[0.77396,0.59],[0.77445,0.65],[0.77494,0.69],[0.77543,0.72],[0.77592,0.75],[0.77640,0.72],[0.77689,0.78],[0.77738,0.82],[0.77787,0.85],[0.77836,0.88],
[0.77885,0.85],[0.77934,0.92],[0.77983,0.85],[0.78032,0.88],[0.78081,0.82],[0.78130,0.92],[0.78179,0.95],[0.78228,0.92],[0.78277,0.98],[0.78326,0.88],
[0.78350,1.05],[0.78375,0.95],[0.78424,0.92],[0.78473,0.88],[0.78497,0.98],[0.78522,1.57],[0.78546,1.63],[0.78571,1.83],[0.78595,1.5],[0.78620,1.1],
[0.78644,0.98],[0.78669,1.44],[0.78693,1.76],[0.78718,2.1],[0.78742,1.24],[0.78767,0.72],[0.78791,1.76],[0.78816,1.5],[0.78840,0.98],[0.78865,0.59],
[0.78889,-0.07],[0.78914,-1.63],[0.78938,-0.72],[0.78963,0.59],[0.78987,1.44],[0.79012,2.09],[0.79036,2.42],[0.79060,1.9],[0.79085,1.5],[0.79109,2.16],
[0.79134,2.35],[0.79158,1.5],[0.79183,0.59],[0.79207,1.37],[0.79232,1.11],[0.79256,0.85],[0.79281,0.2],[0.79305,0.72],[0.79330,2.16],[0.79354,5.4],
[0.79379,3.86],[0.79403,2.55],[0.79428,1.5],[0.79452,1.11],[0.79477,0.59],[0.79501,1.57],[0.79526,2.22],[0.79550,5.4],[0.79575,5.4],[0.79599,3.86],
[0.79624,0.85],[0.79648,0.72],[0.79672,1.9],[0.79697,3.2],[0.79721,4.5],[0.79800,5.4]
];

// ---------------- chart ----------------
const FONT = '"Liberation Sans", Helvetica, Arial, sans-serif';
const toXY = arr => arr.map(p => ({x: p[0], y: p[1]}));
const zeroLine = [{x: xRange[0], y: 0}, {x: xRange[1], y: 0}];
const seriesColors = ['#ff0000', '#00ee00', '#0000ff'];

const framePlugin = {
  id: 'frame',
  afterDatasetsDraw(chart) {
    const {ctx, chartArea: a, scales: {x, y}} = chart;
    ctx.save();
    ctx.strokeStyle = '#000';
    ctx.lineCap = 'butt';
    ctx.lineWidth = 2.2;
    ctx.beginPath();
    const xt = (v, lb, lt) => { const px = x.getPixelForValue(v); ctx.moveTo(px, a.bottom); ctx.lineTo(px, a.bottom - lb); ctx.moveTo(px, a.top); ctx.lineTo(px, a.top + lt); };
    xTickValues.forEach(v => xt(v, 12, 9));
    xMinorTicks.forEach(v => xt(v, 7, 6));
    const yt = (v, len) => { const py = y.getPixelForValue(v); ctx.moveTo(a.left, py); ctx.lineTo(a.left + len, py); ctx.moveTo(a.right, py); ctx.lineTo(a.right - len, py); };
    yTickValues.forEach(v => yt(v, 30));
    yMinorTicks.forEach(v => yt(v, 15));
    ctx.stroke();
    ctx.lineWidth = 2.6;
    ctx.strokeRect(a.left, a.top, a.right - a.left, a.bottom - a.top);
    // legend text
    ctx.font = '28px ' + FONT;
    ctx.textBaseline = 'alphabetic';
    ctx.textAlign = 'left';
    legendLabels.forEach((t, i) => {
      ctx.save();
      ctx.translate(a.left + 59, a.top + 73 + i * 37);
      ctx.scale(0.86, 1);
      ctx.fillStyle = seriesColors[i];
      ctx.fillText(t, 0, 0);
      ctx.restore();
    });
    ctx.restore();
  },
  afterDraw(chart) {
    const {ctx} = chart;
    ctx.save();
    ctx.font = '28px Lato, "Open Sans", sans-serif';
    ctx.textBaseline = 'alphabetic';
    ctx.textAlign = 'left';
    const w = ctx.measureText(watermark).width;
    ctx.translate(547, 630);
    ctx.scale(469 / w, 1);
    ctx.fillStyle = 'rgba(125,125,125,0.92)';
    ctx.fillText(watermark, 0, 0);
    ctx.restore();
  }
};

const noPad = s => { s.paddingTop = 0; s.paddingBottom = 0; s.paddingLeft = 0; s.paddingRight = 0; };

new Chart(document.getElementById('c'), {
  type: 'line',
  data: {
    datasets: [
      {label: 'zero', data: zeroLine, borderColor: '#000', borderWidth: 2.6, borderDash: [26, 8, 3, 8, 3, 8, 3, 8], pointRadius: 0, order: 0},
      {label: legendLabels[2], data: toXY(librt), borderColor: seriesColors[2], borderWidth: 1.5, pointRadius: 0, order: 1},
      {label: legendLabels[1], data: toXY(rtmom), borderColor: seriesColors[1], borderWidth: 1.5, pointRadius: 0, order: 2},
      {label: legendLabels[0], data: toXY(sixs), borderColor: seriesColors[0], borderWidth: 1.5, pointRadius: 0, order: 3}
    ]
  },
  options: {
    responsive: false,
    animation: false,
    devicePixelRatio: 1,
    layout: {padding: {left: 0, right: 19, top: 10, bottom: 0}},
    elements: {line: {tension: 0, fill: false}},
    plugins: {legend: {display: false}, tooltip: {enabled: false}},
    scales: {
      x: {
        type: 'linear', min: xRange[0], max: xRange[1],
        grid: {display: false, drawTicks: false}, border: {display: false},
        afterBuildTicks: s => { s.ticks = xTickValues.map(v => ({value: v})); },
        afterFit: s => { s.height = 97; noPad(s); },
        ticks: {autoSkip: false, maxRotation: 0, padding: 16, color: '#000', font: {family: FONT, size: 34},
          callback: (v, i) => xTickLabels[i]},
        title: {display: true, text: xTitle, color: '#000', font: {family: FONT, size: 32}, padding: {top: 0, bottom: 3}}
      },
      y: {
        min: yRange[0], max: yRange[1],
        grid: {display: false, drawTicks: false}, border: {display: false},
        afterBuildTicks: s => { s.ticks = yTickValues.map(v => ({value: v})); },
        afterFit: s => { s.width = 129; noPad(s); },
        ticks: {autoSkip: false, padding: 11, color: '#000', font: {family: FONT, size: 32},
          callback: (v, i) => yTickLabels[i]},
        title: {display: true, text: yTitle, color: '#000', font: {family: FONT, size: 30}, padding: {top: 15, bottom: 0}}
      }
    }
  },
  plugins: [framePlugin]
});
</script>
</body></html>
